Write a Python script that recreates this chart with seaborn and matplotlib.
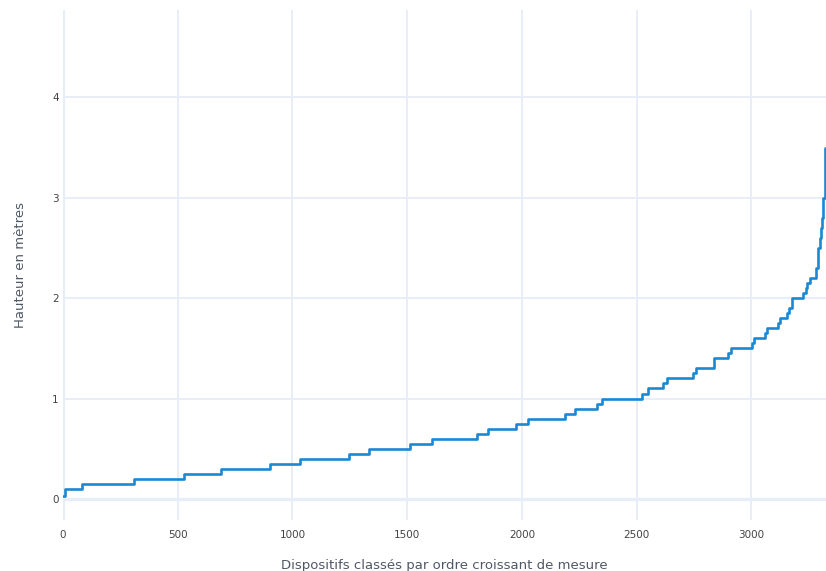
import numpy as np
import pandas as pd
import matplotlib
matplotlib.use("Agg")
import matplotlib.pyplot as plt
import seaborn as sns

# step starts (rank of device) and measured height from that rank on
rank_start = [0, 10, 81, 311, 529, 688, 902, 1033, 1248, 1335,
              1512, 1609, 1802, 1853, 1974, 2025, 2189, 2231, 2328, 2347,
              2521, 2550, 2614, 2633, 2747, 2758, 2838, 2899, 2909, 3002,
              3011, 3059, 3069, 3117, 3125, 3153, 3165, 3178, 3226, 3236,
              3243, 3255, 3281, 3288, 3292, 3298, 3303, 3308, 3313, 3322]
heights = [0.03, 0.1, 0.15, 0.2, 0.25, 0.3, 0.35, 0.4, 0.45, 0.5,
           0.55, 0.6, 0.65, 0.7, 0.75, 0.8, 0.85, 0.9, 0.95, 1.0,
           1.05, 1.1, 1.15, 1.2, 1.25, 1.3, 1.4, 1.45, 1.5, 1.55,
           1.6, 1.65, 1.7, 1.75, 1.8, 1.85, 1.9, 2.0, 2.05, 2.1,
           2.15, 2.2, 2.3, 2.4, 2.5, 2.6, 2.7, 2.8, 3.0, 3.5]
n_devices = 3325

x_ticks = [0, 500, 1000, 1500, 2000, 2500, 3000]
y_ticks = [0, 1, 2, 3, 4]

df = pd.DataFrame({"rang": rank_start + [n_devices],
                   "hauteur": heights + [heights[-1]]})

sns.set_style("white")
plt.rcParams['font.family'] = ['DejaVu Sans']

grid_col = "#e8eef7"
text_col = "#444444"
title_col = "#4f5866"

fig = plt.figure(figsize=(8.26, 5.71), dpi=100)
ax = fig.add_axes([63 / 826, 51 / 571, 1 - 63 / 826, 510 / 571])

sns.lineplot(data=df, x="rang", y="hauteur", ax=ax, color="#1a88d2",
             linewidth=1.9, drawstyle="steps-post", zorder=3)

ax.set_xlim(0, n_devices)
ax.set_ylim(-0.21, 4.87)
ax.set_xticks(x_ticks)
ax.set_yticks(y_ticks)
ax.grid(True, color=grid_col, linewidth=1.4)
ax.axhline(0, color=grid_col, linewidth=2.4, zorder=1)
ax.axvline(0, color=grid_col, linewidth=2.4, zorder=1)
for s in ax.spines.values():
    s.set_visible(False)
ax.tick_params(axis="both", length=0, labelsize=7.5, labelcolor=text_col)
ax.tick_params(axis="x", pad=7)
ax.tick_params(axis="y", pad=3)

ax.set_xlabel("Dispositifs classés par ordre croissant de mesure",
              fontsize=9.5, color=title_col, labelpad=14)
ax.set_ylabel("Hauteur en mètres", fontsize=9.5, color=title_col, labelpad=18)

fig.savefig("out.png", dpi=100)
